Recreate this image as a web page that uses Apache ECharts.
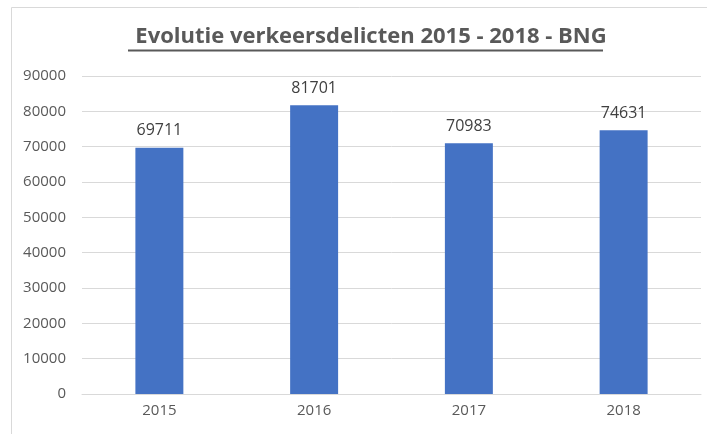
<!DOCTYPE html>
<html>
<head>
<meta charset="utf-8">
<script src="https://cdn.jsdelivr.net/npm/echarts@6/dist/echarts.min.js"></script>
<style>
  html, body { margin: 0; padding: 0; background: #fff; }
  #graph { width: 707px; height: 434px; }
</style>
</head>
<body>
<div id="graph"></div>
<script>
// chart data
var titleText = 'Evolutie verkeersdelicten 2015 - 2018 - BNG';
var years = ['2015', '2016', '2017', '2018'];
var delicten = [69711, 81701, 70983, 74631];
var yTicks = { min: 0, max: 90000, interval: 10000 };

var chart = echarts.init(document.getElementById('graph'));

var option = {
    backgroundColor: '#ffffff',
    textStyle: { fontFamily: 'Open Sans' },
    title: {
        text: titleText,
        left: 366,
        top: 21,
        textAlign: 'center',
        textStyle: {
            fontFamily: 'Open Sans',
            fontSize: 22,
            fontWeight: 'bold',
            color: '#595959'
        }
    },
    // frame and title underline
    graphic: [{
        type: 'rect',
        shape: { x: 11.5, y: 7.5, width: 720, height: 460 },
        style: { fill: 'none', stroke: '#d9d9d9', lineWidth: 1 },
        silent: true
    }, {
        type: 'line',
        shape: { x1: 128, y1: 50.5, x2: 603, y2: 50.5 },
        style: { stroke: '#595959', lineWidth: 2 },
        silent: true
    }],
    grid: {
        left: 82,
        right: 6,
        top: 76,
        bottom: 40
    },
    xAxis: {
        type: 'category',
        data: years,
        axisLine: { lineStyle: { color: '#d9d9d9', width: 1 } },
        axisTick: { show: false },
        axisLabel: { color: '#595959', fontSize: 15, margin: 9 }
    },
    yAxis: {
        type: 'value',
        min: yTicks.min,
        max: yTicks.max,
        interval: yTicks.interval,
        axisLine: { show: false },
        axisTick: { show: false },
        splitLine: { lineStyle: { color: '#d9d9d9', width: 1 } },
        axisLabel: {
            color: '#595959',
            fontSize: 15,
            margin: 16,
            formatter: function (v) { return String(v); }
        }
    },
    series: [{
        type: 'bar',
        data: delicten,
        barWidth: '31%',
        itemStyle: { color: '#4472c4' },
        label: {
            show: true,
            position: 'top',
            distance: 9,
            color: '#404040',
            fontSize: 16
        }
    }]
};

chart.setOption(option);
</script>
</body>
</html>
